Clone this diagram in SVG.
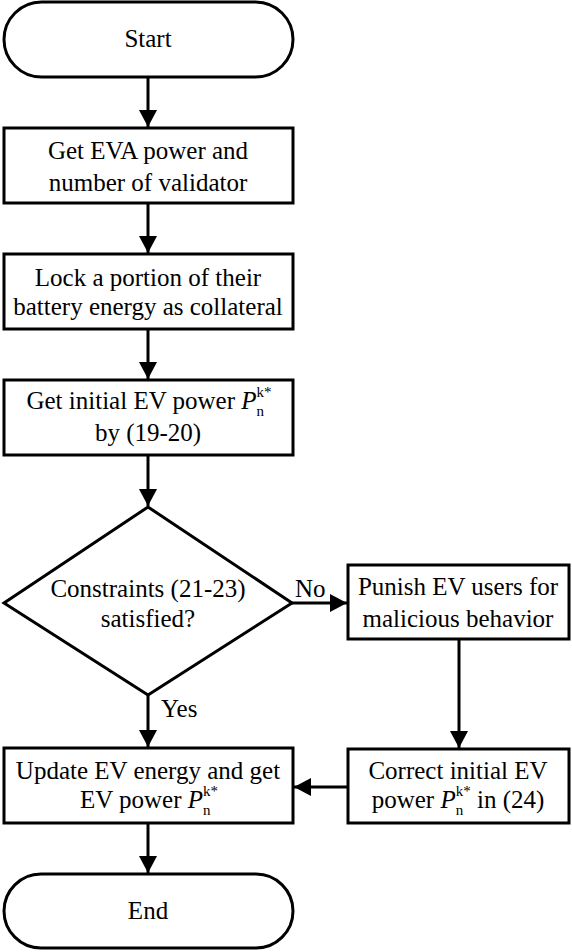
<svg xmlns="http://www.w3.org/2000/svg" width="572" height="952" viewBox="0 0 572 952" font-family="'Liberation Serif', serif">
<style>
.n{fill:#fff;stroke:#000;stroke-width:3}
.c{fill:none;stroke:#000;stroke-width:3}
text{font-family:'Liberation Serif',serif;font-size:25px;fill:#000;text-anchor:middle}
text.l{text-anchor:start}
.s{font-size:15px}
.i{font-style:italic}
</style>
<defs>
<marker id="ah" viewBox="0 0 17 18" refX="17" refY="9" markerWidth="17" markerHeight="18" markerUnits="userSpaceOnUse" orient="auto"><path d="M0,0L17,9L0,18z" fill="#000"/></marker>
</defs>
<g id="connectors">
<path class="c" d="M148,77V127" marker-end="url(#ah)"/>
<path class="c" d="M148,203V253" marker-end="url(#ah)"/>
<path class="c" d="M148,329V379" marker-end="url(#ah)"/>
<path class="c" d="M148,455V506" marker-end="url(#ah)"/>
<path class="c" d="M292,603H347" marker-end="url(#ah)"/>
<path class="c" d="M148,695V747" marker-end="url(#ah)"/>
<path class="c" d="M459,639V748" marker-end="url(#ah)"/>
<path class="c" d="M348,787H294" marker-end="url(#ah)"/>
<path class="c" d="M148,823V873" marker-end="url(#ah)"/>
<text class="l" x="295" y="597">No</text>
<text class="l" x="161" y="717">Yes</text>
</g>
<g id="start"><rect class="n" x="4" y="2" width="289" height="75" rx="37.5"/><text x="148" y="47">Start</text></g>
<g id="get-eva"><rect class="n" x="4" y="128" width="289" height="75"/><text x="148" y="159">Get EVA power and</text><text x="148" y="191">number of validator</text></g>
<g id="lock"><rect class="n" x="4" y="254" width="289" height="75"/><text x="148" y="286">Lock a portion of their</text><text x="148" y="315">battery energy as collateral</text></g>
<g id="initial"><rect class="n" x="4" y="380" width="289" height="75"/><text x="149" y="409">Get initial EV power  <tspan class="i">P</tspan><tspan class="s" dy="7">n</tspan><tspan class="s" dx="-7.5" dy="-19">k*</tspan></text><text x="148" y="441">by (19-20)</text></g>
<g id="decision"><polygon class="n" points="148,507 292,603 148,695 4,603"/><text x="148" y="597">Constraints (21-23)</text><text x="148" y="627">satisfied?</text></g>
<g id="punish"><rect class="n" x="348" y="565" width="221" height="74"/><text x="458" y="595">Punish EV users for</text><text x="458" y="627">malicious behavior</text></g>
<g id="update"><rect class="n" x="4" y="748" width="289" height="75"/><text x="148" y="779">Update EV energy and get</text><text x="149" y="808">EV power  <tspan class="i">P</tspan><tspan class="s" dy="7">n</tspan><tspan class="s" dx="-7.5" dy="-19">k*</tspan></text></g>
<g id="correct"><rect class="n" x="348" y="749" width="221" height="74"/><text x="458" y="779">Correct initial EV</text><text x="458" y="808">power  <tspan class="i">P</tspan><tspan class="s" dy="7">n</tspan><tspan class="s" dx="-7.5" dy="-19">k*</tspan><tspan dy="12"> in (24)</tspan></text></g>
<g id="end"><rect class="n" x="4" y="874" width="289" height="74" rx="37"/><text x="148" y="919">End</text></g>
</svg>
